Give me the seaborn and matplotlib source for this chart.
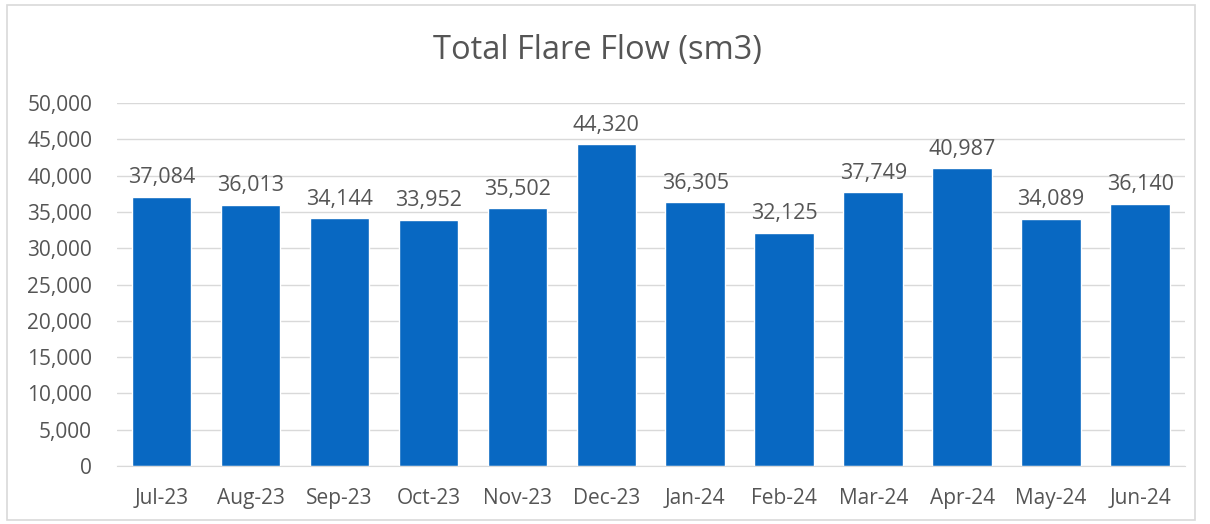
import matplotlib
matplotlib.use("Agg")
import matplotlib.pyplot as plt
import seaborn as sns
import pandas as pd
from matplotlib.patches import Rectangle
from matplotlib.ticker import FuncFormatter, MultipleLocator

# %% Data
months = ["Jul-23", "Aug-23", "Sep-23", "Oct-23", "Nov-23", "Dec-23",
          "Jan-24", "Feb-24", "Mar-24", "Apr-24", "May-24", "Jun-24"]
flare_flow = [37084, 36013, 34144, 33952, 35502, 44320,
              36305, 32125, 37749, 40987, 34089, 36140]

df = pd.DataFrame({"month": months, "flow": flare_flow})

# %% Style
sns.set_style("white")
plt.rcParams["font.family"] = ["Open Sans", "DejaVu Sans"]
text_grey = "#555555"
bar_blue = "#0868C2"

fig = plt.figure(figsize=(12.1, 5.24), dpi=100, facecolor="white")
ax = fig.add_axes([0.0967, 0.1107, 0.8823, 0.6927])

sns.barplot(data=df, x="month", y="flow", color=bar_blue, width=0.67,
            saturation=1, ax=ax, zorder=2)

# value labels above bars
for i, v in enumerate(flare_flow):
    ax.annotate(f"{v:,}", xy=(i, v), xytext=(0, 6), textcoords="offset points",
                ha="center", va="bottom", fontsize=15.5, color=text_grey)

ax.set_ylim(0, 50000)
ax.set_xlim(-0.5, len(months) - 0.5)
ax.yaxis.set_major_locator(MultipleLocator(5000))
ax.yaxis.set_major_formatter(FuncFormatter(lambda v, p: f"{int(v):,}"))
ax.grid(axis="y", color="#d9d9d9", linewidth=1.0, zorder=0)
ax.set_axisbelow(True)

for s in ["top", "right", "left"]:
    ax.spines[s].set_visible(False)
ax.spines["bottom"].set_color("#d9d9d9")
ax.tick_params(axis="x", length=0, labelsize=15, labelcolor=text_grey, pad=16)
ax.tick_params(axis="y", length=0, labelsize=15, labelcolor=text_grey, pad=18)
ax.set_xlabel("")
ax.set_ylabel("")

fig.text(0.494, 0.903, "Total Flare Flow (sm3)", ha="center", va="center",
         fontsize=23.5, color=text_grey)

# chart frame
fig.patches.append(Rectangle((0.006, 0.008), 0.982, 0.982, transform=fig.transFigure,
                             fill=False, edgecolor="#d9d9d9", linewidth=1.2))

plt.savefig("out.png", dpi=100, facecolor="white")
